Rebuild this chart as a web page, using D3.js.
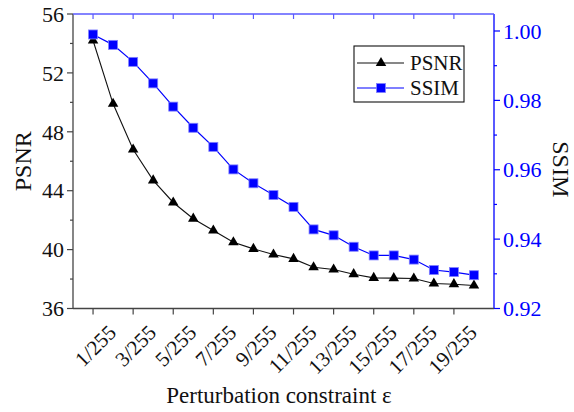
<!DOCTYPE html>
<html><head><meta charset="utf-8">
<script src="https://cdn.jsdelivr.net/npm/d3@7"></script>
<style>
body{margin:0;background:#fff;}
</style></head>
<body>
<svg id="c" width="574" height="412" font-family="Liberation Serif, Times New Roman, Times, serif"></svg>
<script>
const positions = [1,2,3,4,5,6,7,8,9,10,11,12,13,14,15,16,17,18,19,20];
const tickPositions = [1,3,5,7,9,11,13,15,17,19];
const tickLabels = ["1/255","3/255","5/255","7/255","9/255","11/255","13/255","15/255","17/255","19/255"];
const psnr = [54.2,49.9,46.8,44.7,43.2,42.1,41.3,40.5,40.05,39.67,39.37,38.8,38.65,38.33,38.08,38.06,38.04,37.7,37.65,37.56];
const ssim = [0.999,0.996,0.9911,0.9849,0.9782,0.9721,0.9666,0.9601,0.9561,0.9527,0.9493,0.9428,0.9411,0.9378,0.9353,0.9353,0.9341,0.9311,0.9305,0.9296];
const psnrTicks = [36,40,44,48,52,56];
const psnrMinor = [38,42,46,50,54];
const ssimTicks = [0.92,0.94,0.96,0.98,1.00];
const ssimMinor = [0.93,0.95,0.97,0.99];

const FONT = "'Liberation Serif', 'Times New Roman', Times, serif";
const svg = d3.select("#c").style("font-family", FONT);
const L=73, R=494, T=14, B=308.5;
const x = d3.scaleLinear().domain([0,21]).range([L,R]);
const yL = d3.scaleLinear().domain([36,56]).range([B,T]);
const yR = d3.scaleLinear().domain([0.92,1.0049]).range([B,T]);

function txt(sel){ return sel.append("text").style("font-family", FONT); }

// left axis
const gl = svg.append("g").attr("transform",`translate(${L},0)`);
gl.append("line").attr("x1",0).attr("x2",0).attr("y1",T).attr("y2",B).attr("stroke","#444").attr("stroke-width",1.3);
psnrTicks.forEach(v=>{
  gl.append("line").attr("x1",-6).attr("x2",0).attr("y1",yL(v)).attr("y2",yL(v)).attr("stroke","#444").attr("stroke-width",1.2);
  txt(gl).attr("x",-9).attr("y",yL(v)).attr("dy","0.35em").attr("text-anchor","end").attr("font-size",22).attr("fill","#111").text(v);
});
psnrMinor.forEach(v=>{
  gl.append("line").attr("x1",-3).attr("x2",0).attr("y1",yL(v)).attr("y2",yL(v)).attr("stroke","#444").attr("stroke-width",1.2);
});

// right axis
const gr = svg.append("g").attr("transform",`translate(${R},0)`);
gr.append("line").attr("x1",0).attr("x2",0).attr("y1",T).attr("y2",B).attr("stroke","#0000ff").attr("stroke-width",1.3);
ssimTicks.forEach(v=>{
  gr.append("line").attr("x1",0).attr("x2",6).attr("y1",yR(v)).attr("y2",yR(v)).attr("stroke","#0000ff").attr("stroke-width",1.2);
  txt(gr).attr("x",9).attr("y",yR(v)).attr("dy","0.35em").attr("text-anchor","start").attr("font-size",22).attr("fill","#0000ff").text(d3.format(".2f")(v));
});
ssimMinor.forEach(v=>{
  gr.append("line").attr("x1",0).attr("x2",3).attr("y1",yR(v)).attr("y2",yR(v)).attr("stroke","#0000ff").attr("stroke-width",1.2);
});

// top axis
svg.append("line").attr("x1",L).attr("x2",R).attr("y1",T).attr("y2",T).attr("stroke","#5a5aff").attr("stroke-width",1.3);
tickPositions.forEach(p=>{
  svg.append("line").attr("x1",x(p)).attr("x2",x(p)).attr("y1",T).attr("y2",T+5).attr("stroke","#5a5aff").attr("stroke-width",1.2);
});

// bottom axis
svg.append("line").attr("x1",L).attr("x2",R).attr("y1",B).attr("y2",B).attr("stroke","#444").attr("stroke-width",1.3);
tickPositions.forEach((p,i)=>{
  svg.append("line").attr("x1",x(p)).attr("x2",x(p)).attr("y1",B).attr("y2",B+6).attr("stroke","#444").attr("stroke-width",1.2);
  txt(svg).attr("transform",`translate(${x(p)+14},${B+15}) rotate(-45)`)
    .attr("text-anchor","end").attr("dy","0.7em").attr("font-size",21).attr("fill","#111").text(tickLabels[i]);
});

// lines
const lineP = d3.line().x((d,i)=>x(positions[i])).y(d=>yL(d));
const lineS = d3.line().x((d,i)=>x(positions[i])).y(d=>yR(d));
svg.append("path").attr("d",lineP(psnr)).attr("fill","none").attr("stroke","#111").attr("stroke-width",1.1);
svg.append("path").attr("d",lineS(ssim)).attr("fill","none").attr("stroke","#0000ff").attr("stroke-width",1.2);
const tri = d3.symbol().type(d3.symbolTriangle).size(48);
psnr.forEach((v,i)=>{
  svg.append("path").attr("d",tri()).attr("transform",`translate(${x(positions[i])},${yL(v)})`).attr("fill","#000");
});
ssim.forEach((v,i)=>{
  svg.append("rect").attr("x",x(positions[i])-4.5).attr("y",yR(v)-4.5).attr("width",9).attr("height",9).attr("fill","#0000ff").attr("stroke","#8080ff").attr("stroke-width",0.8);
});

// legend
const lg = svg.append("g");
lg.append("rect").attr("x",354).attr("y",46).attr("width",110).attr("height",56).attr("fill","#fff").attr("stroke","#111").attr("stroke-width",1.1);
lg.append("line").attr("x1",357).attr("x2",404).attr("y1",63).attr("y2",63).attr("stroke","#111").attr("stroke-width",1.1);
lg.append("path").attr("d",tri()).attr("transform","translate(381,63)").attr("fill","#000");
txt(lg).attr("x",410).attr("y",63).attr("dy","0.35em").attr("font-size",21).attr("fill","#111").text("PSNR");
lg.append("line").attr("x1",357).attr("x2",404).attr("y1",88).attr("y2",88).attr("stroke","#0000ff").attr("stroke-width",1.2);
lg.append("rect").attr("x",381-4.5).attr("y",88-4.5).attr("width",9).attr("height",9).attr("fill","#0000ff").attr("stroke","#8080ff").attr("stroke-width",0.8);
txt(lg).attr("x",410).attr("y",88).attr("dy","0.35em").attr("font-size",21).attr("fill","#111").text("SSIM");

// axis titles
txt(svg).attr("transform",`translate(31,${(T+B)/2}) rotate(-90)`).attr("text-anchor","middle").attr("font-size",24).attr("fill","#111").text("PSNR");
txt(svg).attr("transform",`translate(553,${(T+B)/2+8}) rotate(90)`).attr("text-anchor","middle").attr("font-size",24).attr("fill","#111").text("SSIM");
txt(svg).attr("x",279).attr("y",403).attr("text-anchor","middle").attr("font-size",23).attr("fill","#111").text("Perturbation constraint ε");
</script>
</body></html>
